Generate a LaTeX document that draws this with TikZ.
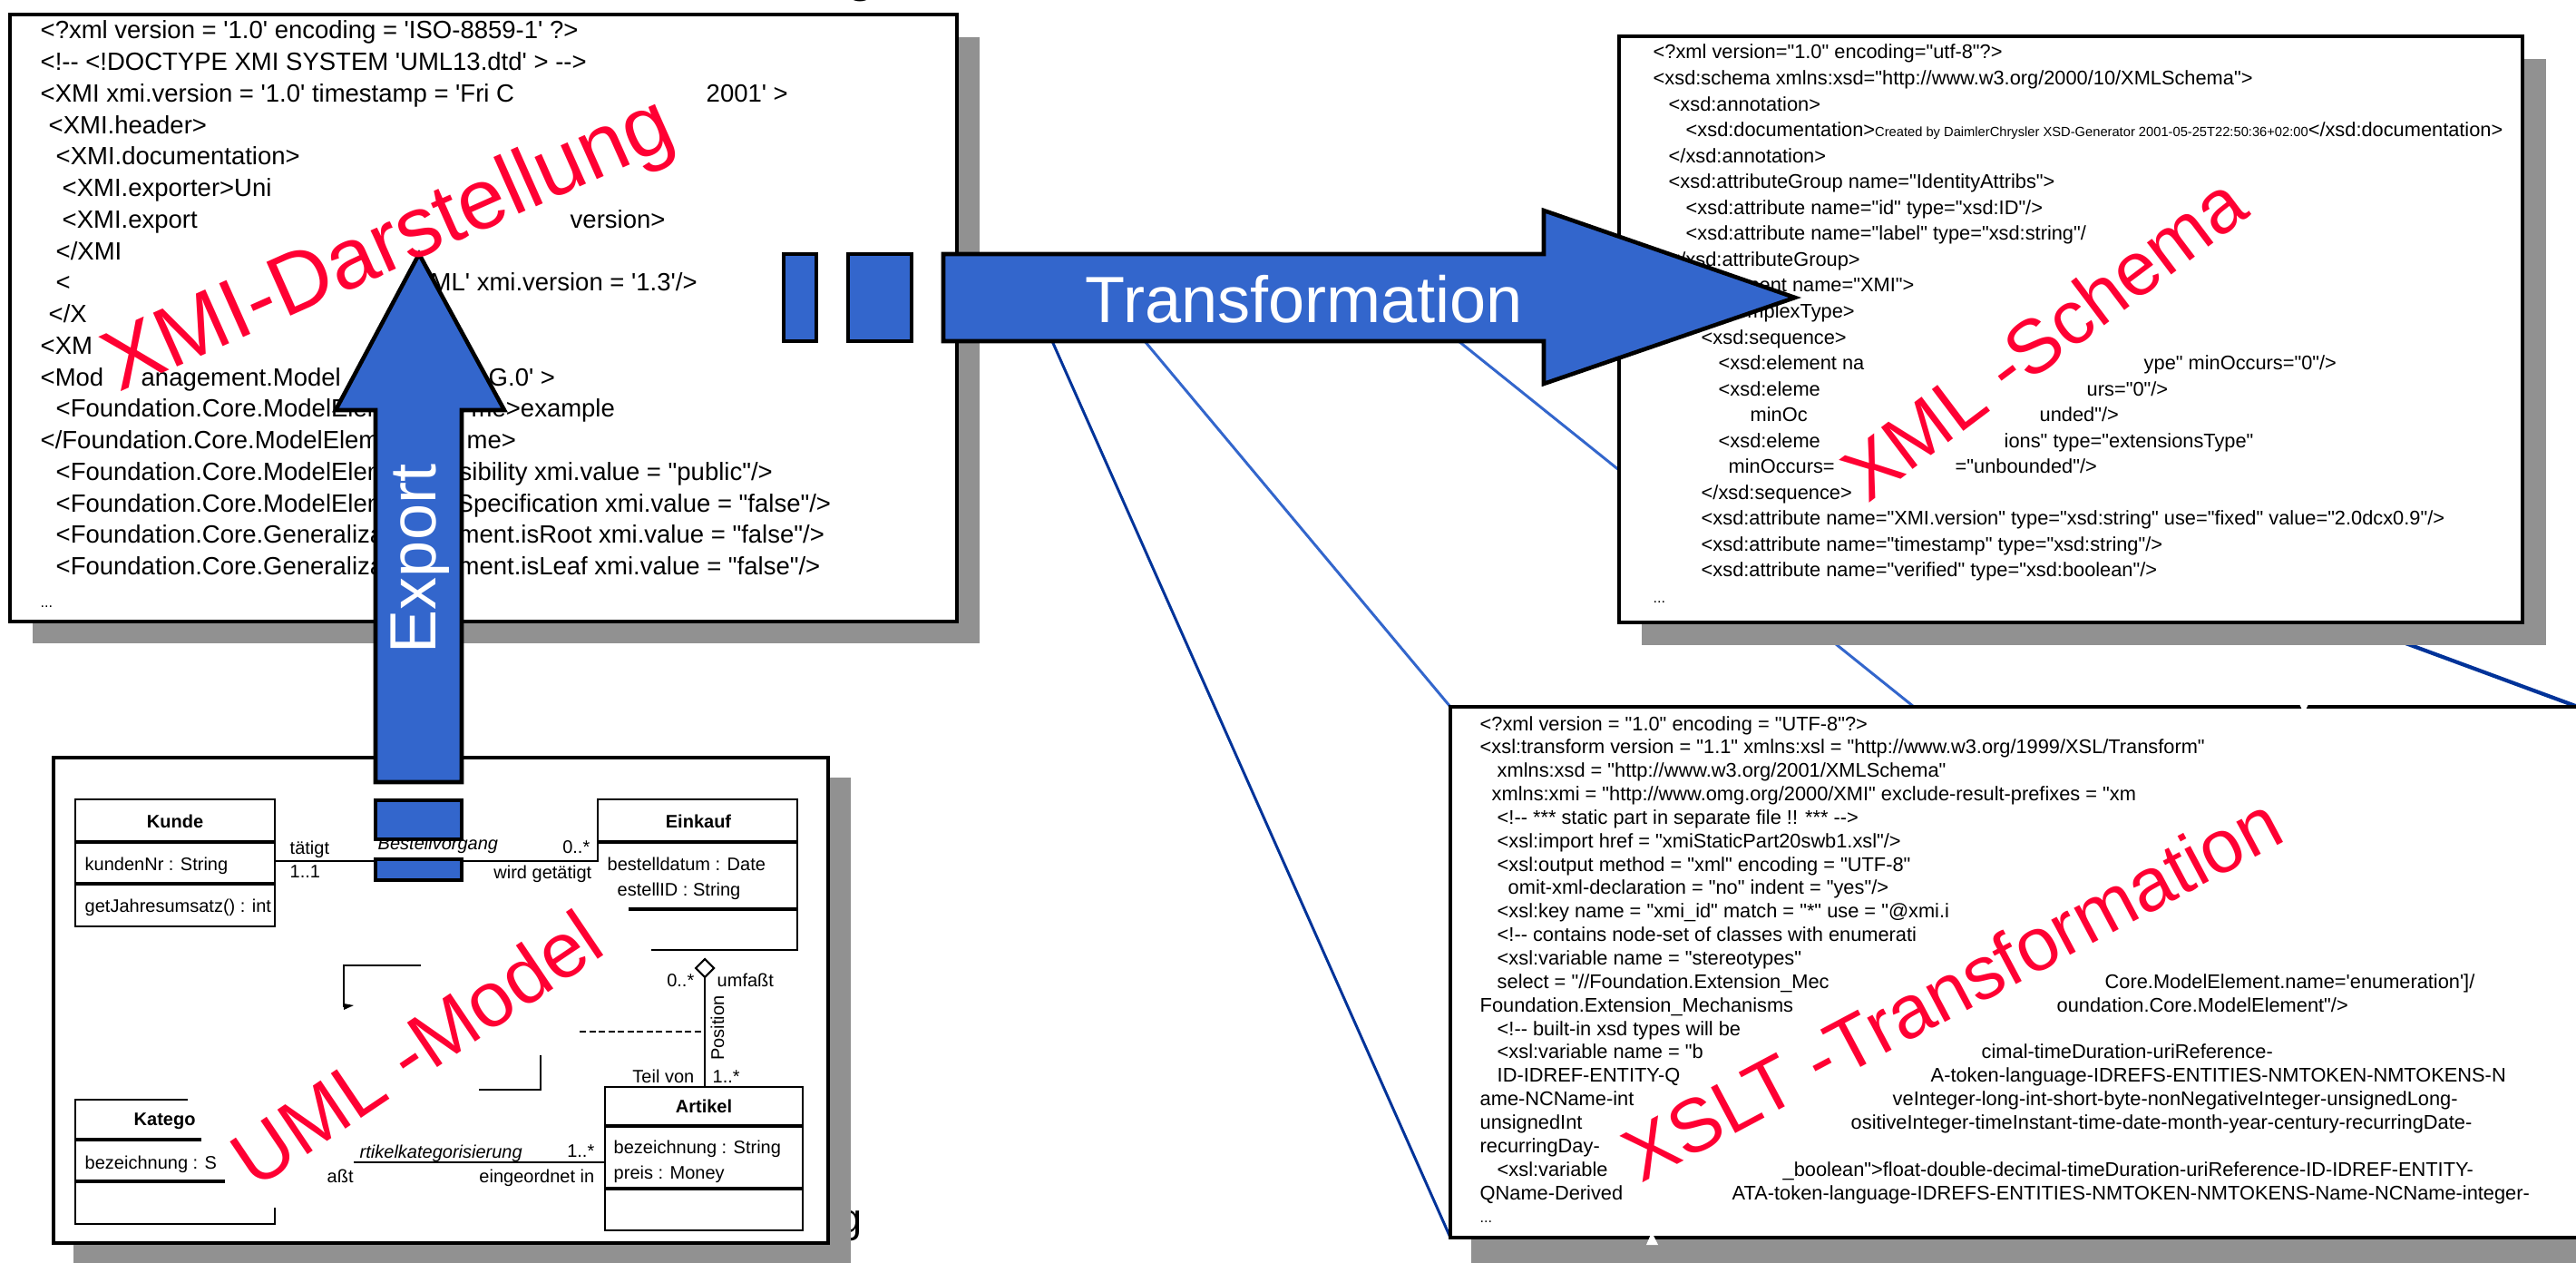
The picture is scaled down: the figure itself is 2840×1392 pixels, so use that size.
\documentclass[tikz,border=0pt]{standalone}
\usepackage{fontspec}
\newfontfamily\arialx{Liberation Sans}

\definecolor{arrowblue}{RGB}{51,102,204}
\definecolor{darkblue}{RGB}{0,51,153}
\definecolor{shadowgray}{RGB}{145,145,145}
\definecolor{labelred}{RGB}{255,0,51}

\tikzset{
  box/.style={draw=black, line width=1.1pt, fill=white},
  shade/.style={fill=shadowgray, draw=none},
  xm/.style={anchor=base west, inner sep=0pt, font=\arialx\fontsize{7.82}{9}\selectfont},
  xs/.style={anchor=base west, inner sep=0pt, font=\arialx\fontsize{6.2}{7.5}\selectfont},
  tiny/.style={anchor=base west, inner sep=0pt, font=\arialx\fontsize{4.6}{5}\selectfont},
  um/.style={anchor=base west, inner sep=0pt, font=\arialx\fontsize{5.69}{7}\selectfont},
  umr/.style={um, anchor=base east},
  umb/.style={inner sep=0pt, font=\arialx\bfseries\fontsize{5.69}{7}\selectfont},
  cls/.style={draw=black, line width=0.6pt},
  sep/.style={draw=black, line width=1.1pt},
  blk/.style={fill=arrowblue, draw=black, line width=1.3pt, line join=miter},
  big/.style={text=white, inner sep=0pt, font=\arialx\fontsize{20.5}{24}\selectfont},
  lbl/.style={text=labelred, inner sep=0pt},
  darkline/.style={draw=darkblue, line width=0.85pt},
  lightline/.style={draw=arrowblue, line width=0.85pt},
}

\begin{document}
\begin{tikzpicture}[x=0.01cm, y=-0.01cm]
\useasboundingbox (0,0) rectangle (2840,1392);

% descender of the slide title above the frame
\node[anchor=base west, inner sep=0pt, font=\arialx\fontsize{17}{20}\selectfont] (tg) at (932,-10) {g};

% zoom connectors from the transformation arrow to the XSLT listing
\coordinate (sA) at (1160,376);
\coordinate (sB) at (1262,376);
\coordinate (sC) at (1608,376);
\coordinate (sD) at (1760,380);
\coordinate (tBL) at (1599,1364);
\coordinate (tTL) at (1599,779);
\coordinate (tTop) at (2110,779);
\coordinate (tTR) at (2842,779);
\draw[darkline] (sA) -- (tBL);
\draw[lightline] (sB) -- (tTL);
\draw[lightline] (sC) -- (tTop);
\draw[darkline, line width=1.2pt] (sD) -- (tTR);

% text hidden behind the UML frame
\node[anchor=base west, inner sep=0pt, font=\arialx\fontsize{12.8}{15}\selectfont] (ug) at (925,1358) {g};

% ---------------- XMI listing ----------------
\fill[shade] (36,41) rectangle (1080,709);
\draw[box] (11,16) rectangle (1055,685);
\node[xm] (m1) at (44,43) {<?xml version = '1.0' encoding = 'ISO-8859-1' ?>};
\node[xm] (m2) at (44,78) {<!-{}- <!DOCTYPE XMI SYSTEM 'UML13.dtd' > -{}->};
\node[xm] (m3) at (44,112.5) {<XMI xmi.version = '1.0' timestamp = 'Fri C};
\node[xm] (m3b) at (778,112.5) {2001' >};
\node[xm] (m4) at (53,147.25) {<XMI.header>};
\node[xm] (m5) at (61,182) {<XMI.documentation>};
\node[xm] (m6) at (68,216.75) {<XMI.exporter>Uni};
\node[xm] (m7) at (68,251.5) {<XMI.export};
\node[xm] (m7b) at (628,251.5) {version>};
\node[xm] (m8) at (61,286.25) {</XMI};
\node[xm] (m9) at (61,321) {<};
\node[xm] (m9b) at (474,321) {ML' xmi.version = '1.3'/>};
\node[xm] (m10) at (53,355.75) {</X};
\node[xm] (m11) at (44,390.5) {<XM};
\node[xm] (m12) at (44,425.25) {<Mod};
\node[xm] (m12b) at (155,425.25) {anagement.Model};
\node[xm] (m12c) at (538,425.25) {G.0' >};
\node[xm] (m13) at (61,460) {<Foundation.Core.ModelElem};
\node[xm] (m13b) at (519,460) {me>example};
\node[xm] (m14) at (44,494.75) {</Foundation.Core.ModelElem};
\node[xm] (m14b) at (514,494.75) {me>};
\node[xm] (m15) at (61,529.5) {<Foundation.Core.ModelElem};
\node[xm] (m15b) at (506,529.5) {sibility xmi.value = "public"/>};
\node[xm] (m16) at (61,564.25) {<Foundation.Core.ModelElem};
\node[xm] (m16b) at (503,564.25) {Specification xmi.value = "false"/>};
\node[xm] (m17) at (61,599) {<Foundation.Core.Generaliza};
\node[xm] (m17b) at (505,599) {ment.isRoot xmi.value = "false"/>};
\node[xm] (m18) at (61,633.75) {<Foundation.Core.Generaliza};
\node[xm] (m18b) at (505,633.75) {ment.isLeaf xmi.value = "false"/>};
\node[tiny] (m19) at (44,670) {...};

% ---------------- XML schema listing ----------------
\fill[shade] (1810,65) rectangle (2807,711);
\draw[box] (1785,40) rectangle (2781,686);
\node[xs] (s1) at (1822,65) {<?xml version="1.0" encoding="utf-8"?>};
\node[xs] (s2) at (1822,93.55) {<xsd:schema xmlns:xsd="http://www.w3.org/2000/10/XMLSchema">};
\node[xs] (s3) at (1839,122.1) {<xsd:annotation>};
\node[xs] (s4) at (1858,150.65) {<xsd:documentation>{\fontsize{4.18}{5}\selectfont Created by DaimlerChrysler XSD-Generator 2001-05-25T22:50:36+02:00}</xsd:documentation>};
\node[xs] (s5) at (1839,179.2) {</xsd:annotation>};
\node[xs] (s6) at (1839,207.75) {<xsd:attributeGroup name="IdentityAttribs">};
\node[xs] (s7) at (1858,236.3) {<xsd:attribute name="id" type="xsd:ID"/>};
\node[xs] (s8) at (1858,264.85) {<xsd:attribute name="label" type="xsd:string"/};
\node[xs] (s9) at (1839,293.4) {</xsd:attributeGroup>};
\node[xs] (s10) at (1839,321.95) {<xsd:element name="XMI">};
\node[xs] (s11) at (1850,350.5) {<xsd:complexType>};
\node[xs] (s12) at (1875,379.05) {<xsd:sequence>};
\node[xs] (s13) at (1894,407.6) {<xsd:element na};
\node[xs] (s13b) at (2363,407.6) {ype" minOccurs="0"/>};
\node[xs] (s14) at (1894,436.15) {<xsd:eleme};
\node[xs] (s14b) at (2300,436.15) {urs="0"/>};
\node[xs] (s15) at (1929,464.7) {minOc};
\node[xs] (s15b) at (2248,464.7) {unded"/>};
\node[xs] (s16) at (1894,493.25) {<xsd:eleme};
\node[xs] (s16b) at (2209,493.25) {ions" type="extensionsType"};
\node[xs] (s17) at (1905,521.8) {minOccurs=};
\node[xs] (s17b) at (2155,521.8) {="unbounded"/>};
\node[xs] (s18) at (1875,550.35) {</xsd:sequence>};
\node[xs] (s19) at (1875,578.9) {<xsd:attribute name="XMI.version" type="xsd:string" use="fixed" value="2.0dcx0.9"/>};
\node[xs] (s20) at (1875,607.45) {<xsd:attribute name="timestamp" type="xsd:string"/>};
\node[xs] (s21) at (1875,636) {<xsd:attribute name="verified" type="xsd:boolean"/>};
\node[tiny] (s22) at (1822,664.5) {...};

% ---------------- XSLT listing ----------------
\fill[shade] (1622,803) rectangle (2900,1420);
\draw[box] (1599,779) rectangle (2880,1364);
\fill[white] (2533,772) -- (2547,772) -- (2540,786) -- cycle;
\fill[white] (1815,1372) -- (1828,1372) -- (1821,1358) -- cycle;
\node[xs] (x1) at (1631,805) {<?xml version = "1.0" encoding = "UTF-8"?>};
\node[xs] (x2) at (1631,830.85) {<xsl:transform version = "1.1" xmlns:xsl = "http://www.w3.org/1999/XSL/Transform"};
\node[xs] (x3) at (1650,856.7) {xmlns:xsd = "http://www.w3.org/2001/XMLSchema"};
\node[xs] (x4) at (1644,882.55) {xmlns:xmi = "http://www.omg.org/2000/XMI" exclude-result-prefixes = "xm};
\node[xs] (x5) at (1650,908.4) {<!-{}- *** static part in separate file !! *** -{}->};
\node[xs] (x6) at (1650,934.25) {<xsl:import href = "xmiStaticPart20swb1.xsl"/>};
\node[xs] (x7) at (1650,960.1) {<xsl:output method = "xml" encoding = "UTF-8"};
\node[xs] (x8) at (1662,985.95) {omit-xml-declaration = "no" indent = "yes"/>};
\node[xs] (x9) at (1650,1011.8) {<xsl:key name = "xmi\_id" match = "*" use = "@xmi.i};
\node[xs] (x10) at (1650,1037.65) {<!-{}- contains node-set of classes with enumerati};
\node[xs] (x11) at (1650,1063.5) {<xsl:variable name = "stereotypes"};
\node[xs] (x12) at (1650,1089.35) {select = "//Foundation.Extension\_Mec};
\node[xs] (x12b) at (2320,1089.35) {Core.ModelElement.name='enumeration']/};
\node[xs] (x13) at (1631,1115.2) {Foundation.Extension\_Mechanisms};
\node[xs] (x13b) at (2267,1115.2) {oundation.Core.ModelElement"/>};
\node[xs] (x14) at (1650,1141.05) {<!-{}- built-in xsd types will be};
\node[xs] (x15) at (1650,1166.9) {<xsl:variable name = "b};
\node[xs] (x15b) at (2184,1166.9) {cimal-timeDuration-uriReference-};
\node[xs] (x16) at (1650,1192.75) {ID-IDREF-ENTITY-Q};
\node[xs] (x16b) at (2128,1192.75) {A-token-language-IDREFS-ENTITIES-NMTOKEN-NMTOKENS-N};
\node[xs] (x17) at (1631,1218.6) {ame-NCName-int};
\node[xs] (x17b) at (2086,1218.6) {veInteger-long-int-short-byte-nonNegativeInteger-unsignedLong-};
\node[xs] (x18) at (1631,1244.45) {unsignedInt};
\node[xs] (x18b) at (2040,1244.45) {ositiveInteger-timeInstant-time-date-month-year-century-recurringDate-};
\node[xs] (x19) at (1631,1270.3) {recurringDay-};
\node[xs] (x20) at (1650,1296.15) {<xsl:variable};
\node[xs] (x20b) at (1965,1296.15) {\_boolean">float-double-decimal-timeDuration-uriReference-ID-IDREF-ENTITY-};
\node[xs] (x21) at (1631,1322) {QName-Derived};
\node[xs] (x21b) at (1909,1322) {ATA-token-language-IDREFS-ENTITIES-NMTOKEN-NMTOKENS-Name-NCName-integer-};
\node[tiny] (x22) at (1631,1347.85) {...};

% ---------------- UML class model ----------------
\fill[shade] (81,857) rectangle (938,1400);
\draw[box, line width=0.9pt] (59,835) rectangle (913,1370);

% Kunde
\draw[cls] (83,881) rectangle (303,1021);
\draw[sep] (83,928) -- (303,928);
\draw[sep] (83,974) -- (303,974);
\node[umb] (kunde) at (193,905) {Kunde};
\node[um] (k1) at (93,959) {kundenNr : String};
\node[um] (k2) at (93,1005) {getJahresumsatz() : int};

% Einkauf (partly covered)
\draw[cls] (659,950) -- (659,881) -- (879,881) -- (879,1047) -- (718,1047);
\draw[sep] (659,928) -- (879,928);
\draw[sep] (693,1002) -- (879,1002);
\node[umb] (einkauf) at (770,905) {Einkauf};
\node[um] (e1) at (669,959) {bestelldatum : Date};
\node[um] (e2) at (680,987) {estellID : String};

% Kunde -- Einkauf
\coordinate (kR) at (303,949);
\coordinate (eL) at (659,949);
\draw[cls] (kR) -- (eL);
\node[um] (a1) at (319,941) {tätigt};
\node[um] (a2) at (319,967) {1..1};
\node[um, font=\arialx\itshape\fontsize{5.69}{7}\selectfont] (a3) at (416,936) {Bestellvorgang};
\node[umr] (a4) at (651,940) {0..*};
\node[umr] (a5) at (653,968) {wird getätigt};

% Kategorie (partly covered)
\draw[cls] (207,1212) -- (83,1212) -- (83,1349) -- (303,1349) -- (303,1331);
\draw[sep] (83,1256) -- (222,1256);
\draw[sep] (83,1302) -- (248,1302);
\node[um, font=\arialx\bfseries\fontsize{5.69}{7}\selectfont] (kat) at (147,1240) {Katego};
\node[um] (kt1) at (93,1288) {bezeichnung : S};

% Artikel
\draw[cls] (667,1198) rectangle (885,1356);
\draw[sep] (667,1241) -- (885,1241);
\draw[sep] (667,1310) -- (885,1310);
\node[umb] (artikel) at (776,1219) {Artikel};
\node[um] (r1) at (676,1271) {bezeichnung : String};
\node[um] (r2) at (676,1299) {preis : Money};

% Kategorie -- Artikel
\coordinate (kaR) at (390,1281);
\coordinate (arL) at (667,1281);
\draw[cls] (kaR) -- (arL);
\node[um, font=\arialx\itshape\fontsize{5.69}{7}\selectfont] (b1) at (396,1276) {rtikelkategorisierung};
\node[umr] (b2) at (656,1275) {1..*};
\node[umr] (b3) at (656,1303) {eingeordnet in};
\node[um] (b4) at (360,1303) {aßt};

% Einkauf -- Artikel aggregation
\coordinate (dT) at (777,1057);
\coordinate (dB) at (777,1077);
\coordinate (arT) at (777,1198);
\draw[cls, fill=white] (dT) -- (787,1067) -- (dB) -- (767,1067) -- cycle;
\draw[cls] (dB) -- (arT);
\node[umr] (c1) at (766,1087) {0..*};
\node[um] (c2) at (790,1087) {umfaßt};
\node[um, anchor=center, rotate=90] (c3) at (791,1133) {Position};
\node[umr] (c4) at (766,1193) {Teil von};
\node[um] (c5) at (785,1193) {1..*};

% association class Position (corners)
\draw[cls] (464,1064) -- (379,1064) -- (379,1110);
\fill (379,1106) -- (390,1108) -- (379,1113) -- cycle;
\draw[cls] (528,1201) -- (596,1201) -- (596,1163);
\coordinate (acR) at (639,1137);
\coordinate (acL) at (777,1137);
\draw[line width=0.8pt, dash pattern=on 2pt off 1pt] (acR) -- (acL);

% ---------------- block arrows ----------------
\filldraw[blk] (864,280) rectangle (900,376);
\filldraw[blk] (935,280) rectangle (1005,376);
\filldraw[blk] (1040,280) -- (1702,280) -- (1702,232) -- (1979,328) -- (1702,423) -- (1702,376) -- (1040,376) -- cycle;
\node[big] (trf) at (1438,330) {Transformation};

\filldraw[blk] (414,862) -- (414,452) -- (370,452) -- (462,280) -- (556,452) -- (509,452) -- (509,862) -- cycle;
\filldraw[blk] (414,882) rectangle (509,925);
\filldraw[blk] (414,947) rectangle (509,970);
\node[big, rotate=90] (exp) at (463,616) {Export};

% ---------------- red captions ----------------
\node[lbl, rotate=24, font=\arialx\fontsize{26.8}{30}\selectfont] (l1) at (430,273) {XMI-Darstellung};
\node[lbl, rotate=37, font=\arialx\fontsize{23.8}{27}\selectfont] (l2) at (2253,372) {XML -Schema};
\node[lbl, rotate=34, font=\arialx\fontsize{24.5}{28}\selectfont] (l3) at (459,1155) {UML -Model};
\node[lbl, rotate=28, font=\arialx\fontsize{23.6}{27}\selectfont] (l4) at (2152,1089) {XSLT -Transformation};
\end{tikzpicture}
\end{document}
